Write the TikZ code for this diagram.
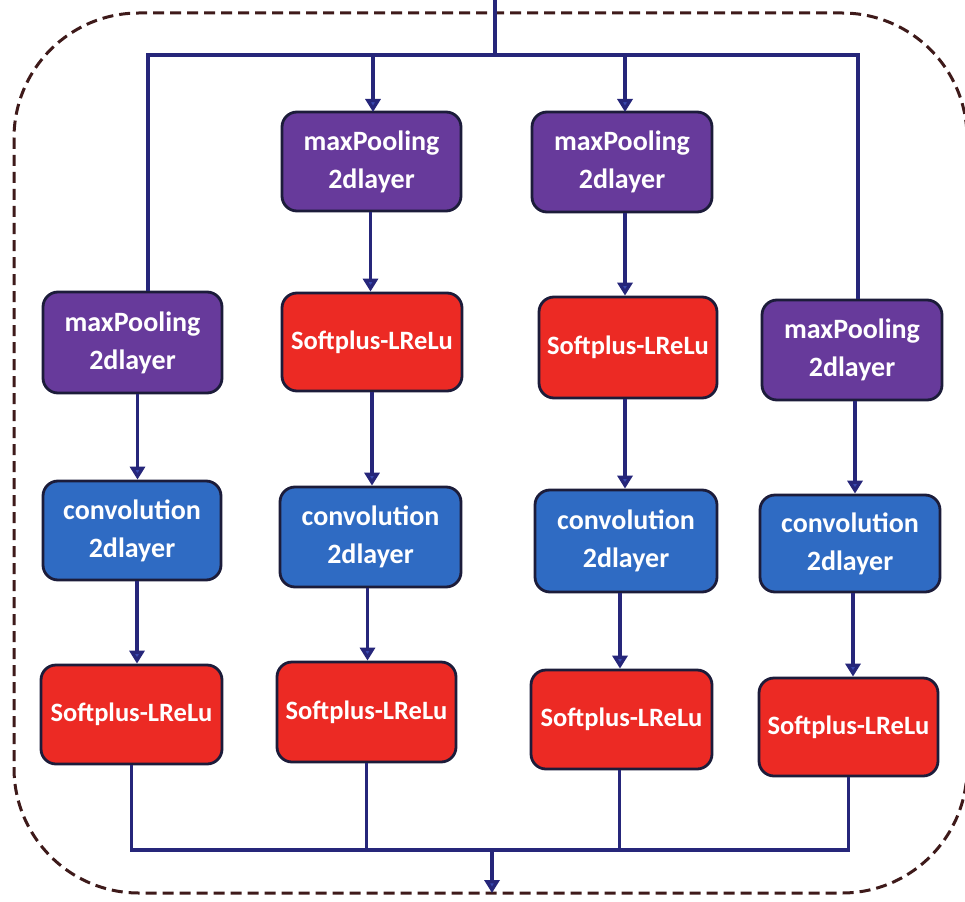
\documentclass[tikz,border=0pt]{standalone}
\usepackage{fontspec}
\setmainfont{Carlito}
\usetikzlibrary{arrows.meta,calc}
\definecolor{poolc}{HTML}{673A9B}
\definecolor{convc}{HTML}{2F6BC3}
\definecolor{actc}{HTML}{EC2A24}
\definecolor{edgec}{HTML}{1C1C3A}
\definecolor{linec}{HTML}{26267A}
\definecolor{tipc}{HTML}{3A4AB0}
\definecolor{framec}{HTML}{3E1A1A}
\tikzset{
  blk/.style={draw=edgec, line width=2.8pt, rounded corners=15pt, text=white,
    font=\bfseries, align=center, inner sep=0pt},
  pool/.style={blk, fill=poolc, font=\bfseries\fontsize{28}{38}\selectfont},
  conv/.style={blk, fill=convc, font=\bfseries\fontsize{28}{38}\selectfont},
  act/.style={blk, fill=actc, font=\bfseries\fontsize{26.5}{30}\selectfont},
  wire/.style={draw=linec, line width=3.6pt},
  arr/.style={wire, -{Triangle[length=13pt,width=15pt,fill=tipc]}},
}
\begin{document}
\begin{tikzpicture}[x=1pt,y=-1pt]
\useasboundingbox (0,0) rectangle (965,901);
\fill[white] (0,0) rectangle (965,901);
\draw[framec, line width=3pt, dash pattern=on 11pt off 6pt, rounded corners=125pt]
  (14,13) rectangle (967,893);
% column 1
\node[pool, minimum width=179pt, minimum height=101pt] (p1) at (132.5,342.5) {maxPooling\\2dlayer};
\node[conv, minimum width=178pt, minimum height=99pt] (c1) at (132,530.5) {convolution\\2dlayer};
\node[act, minimum width=181pt, minimum height=99pt] (a1) at (131.5,714.5) {Softplus-LReLu};
% column 2
\node[pool, minimum width=179pt, minimum height=99pt] (p2) at (371.5,161.5) {maxPooling\\2dlayer};
\node[act, minimum width=180pt, minimum height=98pt] (s2) at (372,342) {Softplus-LReLu};
\node[conv, minimum width=181pt, minimum height=100pt] (c2) at (370.5,537) {convolution\\2dlayer};
\node[act, minimum width=179pt, minimum height=100pt] (a2) at (366.5,712) {Softplus-LReLu};
% column 3
\node[pool, minimum width=180pt, minimum height=100pt] (p3) at (622,162) {maxPooling\\2dlayer};
\node[act, minimum width=178pt, minimum height=101pt] (s3) at (628,347.5) {Softplus-LReLu};
\node[conv, minimum width=182pt, minimum height=102pt] (c3) at (626,541) {convolution\\2dlayer};
\node[act, minimum width=181pt, minimum height=99pt] (a3) at (621.5,719.5) {Softplus-LReLu};
% column 4
\node[pool, minimum width=180pt, minimum height=100pt] (p4) at (852,350) {maxPooling\\2dlayer};
\node[conv, minimum width=180pt, minimum height=97pt] (c4) at (850,543.5) {convolution\\2dlayer};
\node[act, minimum width=179pt, minimum height=98pt] (a4) at (848.5,727) {Softplus-LReLu};
% input bus
\coordinate (in) at (495,0);
\coordinate (bus) at (495,55);
\coordinate (busL) at (148,55);
\coordinate (busR) at (858,55);
\draw[wire] (in) -- (bus);
\draw[wire] (busL |- p1.north) -- (busL) -- (busR) -- (busR |- p4.north);
\draw[arr] (p2.north |- bus) ++(1.5,0) -- ++(0,57);
\draw[arr] (p3.north |- bus) ++(3,0) -- ++(0,57);
% column chains
\draw[arr] ([xshift=5pt]p1.south) -- ([xshift=5pt]p1.south |- c1.north);
\draw[arr] ([xshift=5pt]c1.south) -- ([xshift=5pt]c1.south |- a1.north);
\draw[arr] ([xshift=-1pt]p2.south) -- ([xshift=-1pt]p2.south |- s2.north);
\draw[arr] (s2.south) -- (s2.south |- c2.north);
\draw[arr] ([xshift=-3pt]c2.south) -- ([xshift=-3pt]c2.south |- a2.north);
\draw[arr] ([xshift=3pt]p3.south) -- ([xshift=3pt]p3.south |- s3.north);
\draw[arr] ([xshift=-3pt]s3.south) -- ([xshift=-3pt]s3.south |- c3.north);
\draw[arr] ([xshift=-6pt]c3.south) -- ([xshift=-6pt]c3.south |- a3.north);
\draw[arr] ([xshift=3pt]p4.south) -- ([xshift=3pt]p4.south |- c4.north);
\draw[arr] ([xshift=3pt]c4.south) -- ([xshift=3pt]c4.south |- a4.north);
% output bus
\coordinate (ob) at (492,850);
\coordinate (out) at (492,893);
\draw[wire] (a1.south) -- (a1.south |- ob) -- (a4.south |- ob) -- (a4.south);
\draw[wire] (a2.south) -- (a2.south |- ob);
\draw[wire] ([xshift=-2pt]a3.south) -- ([xshift=-2pt]a3.south |- ob);
\draw[arr] (ob) -- (out);
\end{tikzpicture}
\end{document}
